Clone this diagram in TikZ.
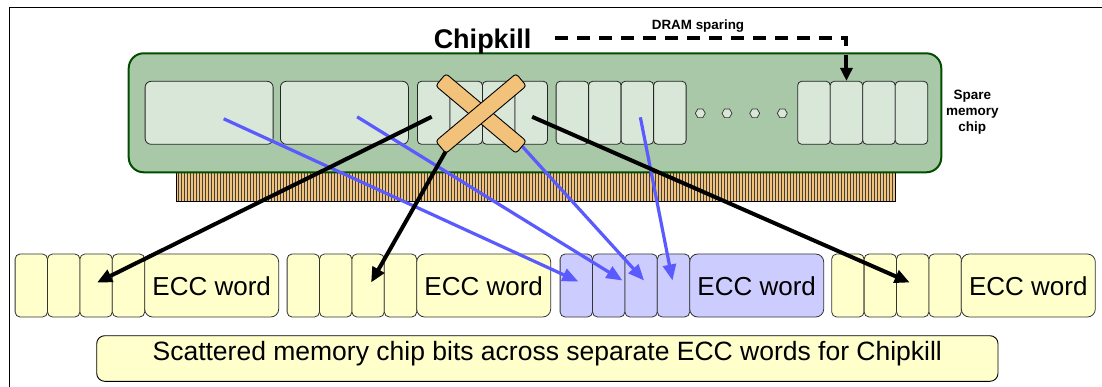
\documentclass[tikz,border=0pt]{standalone}
\usepackage{fontspec}
\setmainfont{Liberation Sans}
\usetikzlibrary{arrows.meta,shapes.geometric}
\definecolor{modgreen}{HTML}{A8C8A8}
\definecolor{modborder}{HTML}{004D00}
\definecolor{chipfill}{HTML}{D9E7D9}
\definecolor{orng}{HTML}{F2C27A}
\definecolor{arrowblue}{HTML}{5A5AFF}
\definecolor{eccyellow}{HTML}{FFFFCC}
\definecolor{eccblue}{HTML}{CCCCFF}
\tikzset{
  chipcell/.style={draw=black!85, fill=chipfill, line width=0.8pt, rounded corners=4pt, minimum height=63pt, inner sep=0pt, anchor=west},
  ecccell/.style={draw=black!80, line width=0.8pt, rounded corners=5pt, minimum height=63pt, inner sep=0pt, anchor=west},
  ecctext/.style={font=\fontsize{26}{30}\selectfont, inner sep=0pt, anchor=base},
  blackarrow/.style={draw=black, line width=4pt, -{Triangle[length=15pt,width=13pt]}},
  bluearrow/.style={draw=arrowblue, line width=3.2pt, -{Triangle[length=16pt,width=13pt]}},
  crossbar/.style={draw=black, fill=orng, line width=0.9pt, rounded corners=3pt, minimum width=105pt, minimum height=16pt, inner sep=0pt},
  hexdot/.style={regular polygon, regular polygon sides=6, draw=black!80, fill=chipfill, minimum size=10pt, inner sep=0pt, line width=0.7pt},
  sparing/.style={draw=black, line width=4pt, dash pattern=on 13pt off 9pt, -{Triangle[length=13pt,width=12pt]}},
}
\begin{document}
\begin{tikzpicture}[x=1pt,y=-1pt]
\useasboundingbox (0,0) rectangle (1102,387);
\clip (0,0) rectangle (1102,387);
% frame
\draw[line width=1.4pt] (9.3,400) -- (9.3,7.3) -- (1110,7.3);
% connector strip
\node[draw=black, fill=orng, line width=0.8pt, minimum width=719.3pt, minimum height=29pt, inner sep=0pt, anchor=north west] (strip) at (175.7,172.3) {};
\foreach \x in {178,181,...,894} \draw[line width=0.35pt, black!75] (\x,172.3) -- (\x,201.3);
% module
\node[draw=modborder, fill=modgreen, line width=2pt, rounded corners=15pt, minimum width=812.6pt, minimum height=119pt, inner sep=0pt] (dimm) at (535,112.8) {};
% chips
\node[chipcell, minimum width=128pt, rounded corners=6pt] (chip1) at (144.7,112.8) {};
\node[chipcell, minimum width=128pt, rounded corners=6pt] (chip2) at (280,112.8) {};
\foreach \g/\L in {3/417, 4/555.7, 5/797.3}
  \foreach \i in {1,...,4}
    \node[chipcell, minimum width=32.5pt] (g\g-\i) at ({\L+32.5*(\i-1)},112.8) {};
% dots
\foreach \n/\x in {1/700.3, 2/727, 3/754.7, 4/782.3}
  \node[hexdot] (dot\n) at (\x,113.3) {};
% texts
\node[font=\bfseries\fontsize{27}{30}\selectfont, inner sep=0pt, anchor=base] (chipkill) at (482.5,48.3) {Chipkill};
\node[font=\bfseries\fontsize{13.4}{16}\selectfont, inner sep=0pt, anchor=base] (dramlbl) at (698,29.3) {DRAM sparing};
\node[font=\bfseries\fontsize{13.5}{16}\selectfont, align=center, inner sep=0pt] (spare) at (972.3,112) {Spare\\memory\\chip};
% DRAM sparing dashed arrow
\coordinate (dstart) at (555.3,37.7);
\draw[sparing] (dstart) -| (g5-2.north);
% ECC words
\foreach \k/\L/\col in {1/14.7/eccyellow, 2/286.7/eccyellow, 3/559.7/eccblue, 4/831.3/eccyellow} {
  \foreach \i in {1,...,4}
    \node[ecccell, fill=\col, minimum width=32.4pt] (w\k-\i) at ({\L+32.4*(\i-1)},285.5) {};
  \node[ecccell, fill=\col, minimum width=134pt, rounded corners=8pt] (w\k-t) at ({\L+129.6},285.5) {};
  \node[ecctext] (w\k-lbl) at ({\L+197},295.3) {ECC word};
}
% caption
\node[draw=black, fill=eccyellow, line width=0.9pt, rounded corners=8pt, minimum width=901.3pt, minimum height=45.6pt, inner sep=0pt] (caption) at (547.35,358.5) {};
\node[font=\fontsize{26.5}{30}\selectfont, inner sep=0pt, anchor=base] (captext) at (547.3,360.5) {Scattered memory chip bits across separate ECC words for Chipkill};
% connectors
\draw[bluearrow] ([xshift=14.6pt,yshift=-6pt]chip1.center) -- ([xshift=2pt,yshift=4pt]w3-1.center);
\draw[bluearrow] ([xshift=12.7pt,yshift=-4pt]chip2.center) -- ([xshift=13.7pt,yshift=5pt]w3-2.center);
\draw[bluearrow] ([xshift=4pt,yshift=-12pt]g3-3.center) -- ([xshift=3pt,yshift=5pt]w3-3.center);
\draw[bluearrow] ([xshift=3pt,yshift=-4.5pt]g4-3.center) -- ([xshift=-1pt,yshift=5pt]w3-4.center);
\draw[blackarrow] ([xshift=-2pt,yshift=-4pt]g3-1.center) -- ([xshift=1pt,yshift=3pt]w1-3.center);
\draw[blackarrow] ([xshift=-7pt,yshift=-15pt]g3-2.center) -- ([xshift=3pt,yshift=3pt]w2-3.center);
\draw[blackarrow] ([xshift=1pt,yshift=-4pt]g3-4.center) -- ([xshift=-3pt,yshift=3pt]w4-3.center);
% cross
\node[crossbar, rotate=-40] (bar1) at (481,113.5) {};
\node[crossbar, rotate=40] (bar2) at (481,113.5) {};
\end{tikzpicture}
\end{document}
